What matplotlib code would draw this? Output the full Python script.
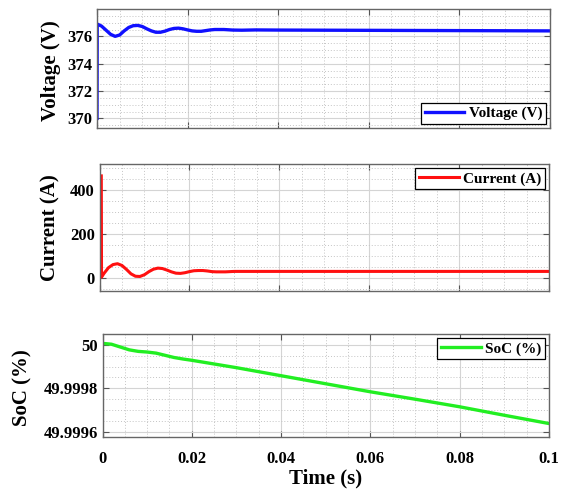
import numpy as np
import matplotlib
matplotlib.use("Agg")
import matplotlib.pyplot as plt
from matplotlib.ticker import MultipleLocator

plt.rcParams['font.family'] = ['Liberation Serif', 'DejaVu Serif']
plt.rcParams['font.weight'] = 'bold'

# voltage trace (V)
volt_t = [0, 0.00005, 0.001, 0.002, 0.003, 0.004, 0.005, 0.006, 0.007, 0.008,
          0.009, 0.010, 0.011, 0.012, 0.013, 0.014, 0.015, 0.016, 0.017, 0.018,
          0.019, 0.020, 0.021, 0.022, 0.023, 0.024, 0.025, 0.026, 0.027, 0.028,
          0.030, 0.032, 0.035, 0.040, 0.050, 0.060, 0.070, 0.080, 0.090, 0.100]
volt_v = [370.0, 376.9, 376.75, 376.45, 376.15, 376.0, 376.1, 376.4, 376.65, 376.78,
          376.8, 376.72, 376.55, 376.4, 376.3, 376.3, 376.38, 376.5, 376.58, 376.6,
          376.55, 376.47, 376.4, 376.37, 376.37, 376.42, 376.47, 376.5, 376.5, 376.5,
          376.46, 376.45, 376.47, 376.46, 376.45, 376.44, 376.43, 376.42, 376.41, 376.40]

# current trace (A)
curr_t = [0.0004, 0.00045, 0.001, 0.002, 0.003, 0.004, 0.005, 0.006, 0.007, 0.008,
          0.009, 0.010, 0.011, 0.012, 0.013, 0.014, 0.015, 0.016, 0.017, 0.018,
          0.019, 0.020, 0.021, 0.022, 0.023, 0.024, 0.025, 0.026, 0.028, 0.030,
          0.035, 0.040, 0.050, 0.060, 0.080, 0.100]
curr_v = [465, 5, 22, 48, 62, 66, 58, 40, 20, 9,
          8, 16, 30, 41, 46, 44, 37, 29, 23, 22,
          25, 30, 34, 35, 35, 33, 30, 29, 29, 31,
          31, 31, 31, 31, 31, 31]

# state of charge (%)
soc_t = [0, 0.002, 0.004, 0.006, 0.008, 0.010, 0.012, 0.014, 0.016, 0.018,
         0.020, 0.025, 0.030, 0.040, 0.050, 0.060, 0.070, 0.080, 0.090, 0.100]
soc_v = [50.000007, 50.000003, 49.999990, 49.999977, 49.999970, 49.999967,
         49.999962, 49.999952, 49.999942, 49.999935, 49.999929, 49.999912,
         49.999895, 49.999858, 49.999821, 49.999784, 49.999750, 49.999715,
         49.999676, 49.999638]

x_ticks = [0, 0.02, 0.04, 0.06, 0.08, 0.1]
x_labels = ["0", "0.02", "0.04", "0.06", "0.08", "0.1"]
volt_ticks = [370, 372, 374, 376]
curr_ticks = [0, 200, 400]
soc_ticks = [49.9996, 49.9998, 50.0]
soc_labels = ["49.9996", "49.9998", "50"]

fig = plt.figure(figsize=(5.61, 4.92), dpi=100)
W, H = 561, 492


def make_axes(l, t, r, b):
    return fig.add_axes([l / W, 1 - b / H, (r - l) / W, (b - t) / H])


def style(ax, xminor, yminor):
    ax.set_xlim(0, 0.1)
    ax.set_xticks(x_ticks)
    ax.xaxis.set_minor_locator(MultipleLocator(xminor))
    ax.yaxis.set_minor_locator(MultipleLocator(yminor))
    ax.grid(which='major', color='#d4d4d4', lw=0.8, ls='-')
    ax.grid(which='minor', color='#c4c4c4', lw=0.7, ls=(0, (1, 2)))
    ax.set_axisbelow(True)
    ax.tick_params(which='major', direction='in', length=4, width=0.8,
                   top=True, right=True, labelsize=12, color='#555555')
    ax.tick_params(which='minor', length=0)
    for s in ax.spines.values():
        s.set_color('#666666')
        s.set_linewidth(1.0)


def legend(ax, loc):
    leg = ax.legend(loc=loc, fancybox=False, framealpha=1, edgecolor='black',
                    borderaxespad=0.25, handlelength=2.6, borderpad=0.25,
                    handletextpad=0.3, prop={'weight': 'bold', 'size': 11})
    leg.get_frame().set_linewidth(0.9)


ax1 = make_axes(97, 9, 550, 128)
ax1.plot(volt_t, volt_v, color='#1010ff', lw=2.4, label='Voltage (V)')
ax1.set_ylim(369.3, 378)
ax1.set_yticks(volt_ticks)
style(ax1, 0.005, 0.5)
ax1.set_xticklabels([])
ax1.set_ylabel('Voltage (V)', fontsize=15, fontweight='bold')
ax1.yaxis.set_label_coords(-0.08, 0.48)
legend(ax1, 'lower right')

ax2 = make_axes(99.5, 164, 549, 291)
ax2.plot(curr_t, curr_v, color='#ff1010', lw=2.2, label='Current (A)')
ax2.set_ylim(-58, 519)
ax2.set_yticks(curr_ticks)
style(ax2, 0.005, 50)
ax2.set_xticklabels([])
ax2.set_ylabel('Current (A)', fontsize=15, fontweight='bold')
ax2.yaxis.set_label_coords(-0.087, 0.5)
legend(ax2, 'upper right')

ax3 = make_axes(102.5, 334, 549, 437)
ax3.plot(soc_t, soc_v, color='#22ee22', lw=2.4, label='SoC (%)')
ax3.set_ylim(49.999576, 50.00005)
ax3.set_yticks(soc_ticks)
ax3.set_yticklabels(soc_labels)
style(ax3, 0.005, 0.00005)
ax3.set_xticklabels(x_labels)
ax3.tick_params(axis='x', pad=10)
ax3.set_ylabel('SoC (%)', fontsize=15, fontweight='bold')
ax3.yaxis.set_label_coords(-0.157, 0.48)
ax3.set_xlabel('Time (s)', fontsize=15, fontweight='bold', labelpad=1)
legend(ax3, 'upper right')

fig.savefig('out.png', dpi=100)
